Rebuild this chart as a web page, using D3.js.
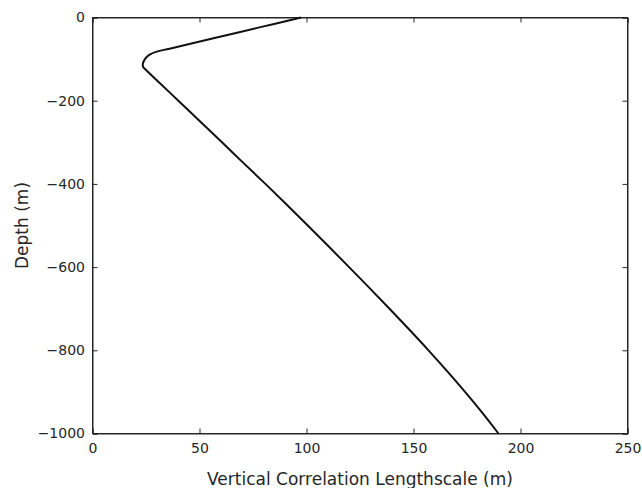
<!DOCTYPE html>
<html><head><meta charset="utf-8">
<script src="https://cdn.jsdelivr.net/npm/d3@7"></script>
<style>body{margin:0;background:#fff}svg{display:block}text{font-family:"DejaVu Sans",sans-serif;fill:#262626}</style>
</head><body>
<script>
const depths = [0,-25,-50,-75,-82,-90,-100,-110,-118,-125,-131,-150,-200,-250,-300,-350,-400,-450,-500,-550,-600,-650,-700,-750,-800,-850,-900,-950,-1000];
const lengths = [97.5,77,56.5,36,30,26.5,24.5,23.6,23.6,24.8,26,29.9,40.1,50.3,60.5,70.6,80.8,90.8,100.6,110.3,119.9,129.4,138.8,148,157,165.7,174.1,182.1,189.7];
const xTicks = [0,50,100,150,200,250];
const yTicks = [0,-200,-400,-600,-800,-1000];
const xLabel = "Vertical Correlation Lengthscale (m)";
const yLabel = "Depth (m)";

const W=642,H=488, L=92.5, R=627.5, T=17.5, B=433.5;
const svg=d3.select("body").append("svg").attr("width",W).attr("height",H);
const x=d3.scaleLinear().domain([0,250]).range([L,R]);
const y=d3.scaleLinear().domain([-1000,0]).range([B,T]);
const fmt=d=>d<0?"\u2212"+Math.abs(d):String(d);
const tl=5;
const axCol="#262626";
const g=svg.append("g");
g.append("g").attr("transform",`translate(0,${B})`).call(d3.axisBottom(x).tickValues(xTicks).tickSize(-tl).tickPadding(10).tickFormat(fmt));
g.append("g").attr("transform",`translate(0,${T})`).call(d3.axisTop(x).tickValues(xTicks).tickSize(-tl).tickFormat(""));
g.append("g").attr("transform",`translate(${L},0)`).call(d3.axisLeft(y).tickValues(yTicks).tickSize(-tl).tickPadding(7.5).tickFormat(fmt));
g.append("g").attr("transform",`translate(${R},0)`).call(d3.axisRight(y).tickValues(yTicks).tickSize(-tl).tickFormat(""));
g.selectAll(".domain").attr("stroke",axCol);
g.selectAll(".tick line").attr("stroke",axCol);
g.selectAll(".tick text").style("font-family","DejaVu Sans").style("font-size","14px").attr("fill",axCol);
svg.append("rect").attr("x",L).attr("y",T).attr("width",R-L).attr("height",B-T).attr("fill","none").attr("stroke",axCol);

const line=d3.line().x((d,i)=>x(lengths[i])).y(d=>y(d)).curve(d3.curveCatmullRom.alpha(0.5));
svg.append("path").datum(depths).attr("d",line).attr("fill","none").attr("stroke","#111").attr("stroke-width",2);

svg.append("text").attr("x",(L+R)/2).attr("y",485).attr("text-anchor","middle").style("font-size","17px").text(xLabel);
svg.append("text").attr("transform",`translate(27.5,${(T+B)/2}) rotate(-90)`).attr("text-anchor","middle").style("font-size","17px").text(yLabel);
</script>
</body></html>
